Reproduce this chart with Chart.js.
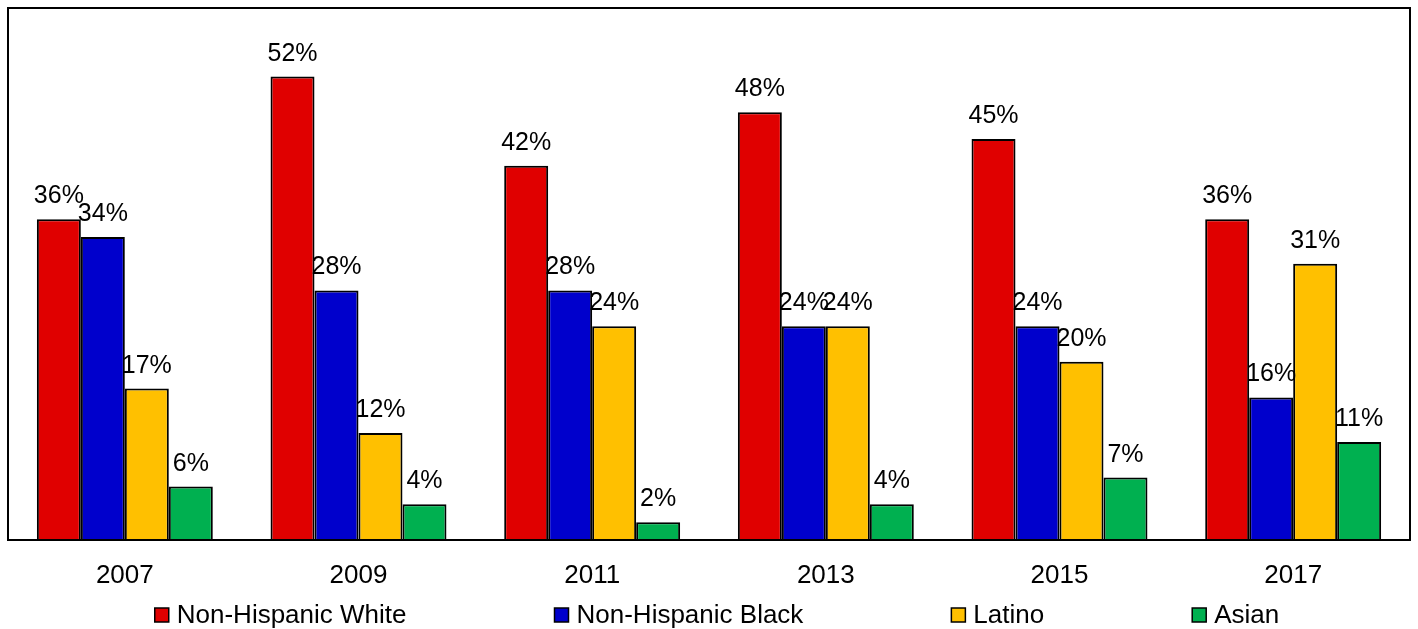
<!DOCTYPE html>
<html>
<head>
<meta charset="utf-8">
<script src="https://cdn.jsdelivr.net/npm/chart.js@4/dist/chart.umd.min.js"></script>
<style>
  html, body { margin: 0; padding: 0; background: #fff; }
  #wrap { width: 1418px; height: 629px; position: relative; }
</style>
</head>
<body>
<div id="wrap"><canvas id="c" width="1418" height="629"></canvas></div>
<script>
// Survey years on the category axis
const years = ['2007', '2009', '2011', '2013', '2015', '2017'];

// Share (%) for each group by year
const white  = [36, 52, 42, 48, 45, 36];
const black  = [34, 28, 28, 24, 24, 16];
const latino = [17, 12, 24, 24, 20, 31];
const asian  = [6, 4, 2, 4, 7, 11];

const seriesNames = ['Non-Hispanic White', 'Non-Hispanic Black', 'Latino', 'Asian'];
const seriesColors = ['#E00000', '#0000CC', '#FFC000', '#00B050'];

const FONT = '"Liberation Sans", Arial, sans-serif';

// Frame around the plotting area
const framePlugin = {
  id: 'frame',
  afterDraw(chart) {
    const { ctx, chartArea: a } = chart;
    ctx.save();
    ctx.strokeStyle = '#000';
    ctx.lineWidth = 2;
    ctx.strokeRect(a.left, a.top, a.right - a.left, a.bottom - a.top);
    ctx.restore();
  }
};

// Percentage labels above each bar
const valueLabels = {
  id: 'valueLabels',
  afterDatasetsDraw(chart) {
    const { ctx } = chart;
    ctx.save();
    ctx.font = '25px ' + FONT;
    ctx.fillStyle = '#000';
    ctx.textAlign = 'center';
    ctx.textBaseline = 'alphabetic';
    chart.data.datasets.forEach((ds, di) => {
      const meta = chart.getDatasetMeta(di);
      meta.data.forEach((bar, i) => {
        ctx.fillText(ds.data[i] + '%', bar.x, bar.y - 16);
      });
    });
    ctx.restore();
  }
};

// Legend row below the axis labels, items separated by an even gap
const bottomLegend = {
  id: 'bottomLegend',
  afterDraw(chart) {
    const { ctx } = chart;
    const box = 14, boxGap = 8, itemGap = 148, y = 615;
    ctx.save();
    ctx.font = '26px ' + FONT;
    const items = chart.data.datasets.map(ds => ({
      text: ds.label, color: ds.backgroundColor,
      w: box + boxGap + ctx.measureText(ds.label).width
    }));
    const total = items.reduce((s, it) => s + it.w, 0) + itemGap * (items.length - 1);
    let x = (chart.width - total) / 2 + 8;
    items.forEach(it => {
      ctx.fillStyle = it.color;
      ctx.fillRect(x, y - box / 2, box, box);
      ctx.strokeStyle = '#000';
      ctx.lineWidth = 1.5;
      ctx.strokeRect(x, y - box / 2, box, box);
      ctx.fillStyle = '#000';
      ctx.textAlign = 'left';
      ctx.textBaseline = 'middle';
      ctx.fillText(it.text, x + box + boxGap, y + 1);
      x += it.w + itemGap;
    });
    ctx.restore();
  }
};

const seriesData = [white, black, latino, asian];

new Chart(document.getElementById('c'), {
  type: 'bar',
  data: {
    labels: years,
    datasets: seriesNames.map((name, k) => ({
      label: name,
      data: seriesData[k],
      backgroundColor: seriesColors[k],
      borderColor: '#000',
      borderWidth: 2,
      categoryPercentage: 0.753,
      barPercentage: 1.0
    }))
  },
  options: {
    responsive: false,
    animation: false,
    layout: { padding: { left: 8, right: 8, top: 8, bottom: 0 } },
    plugins: {
      legend: { display: false },
      tooltip: { enabled: false }
    },
    scales: {
      x: {
        grid: { display: false, drawTicks: false },
        border: { display: false },
        ticks: {
          color: '#000',
          font: { family: FONT, size: 26 },
          padding: 20
        },
        afterFit(scale) { scale.height = 89; }
      },
      y: {
        display: false,
        min: 0,
        max: 59.7
      }
    }
  },
  plugins: [framePlugin, valueLabels, bottomLegend]
});
</script>
</body>
</html>
